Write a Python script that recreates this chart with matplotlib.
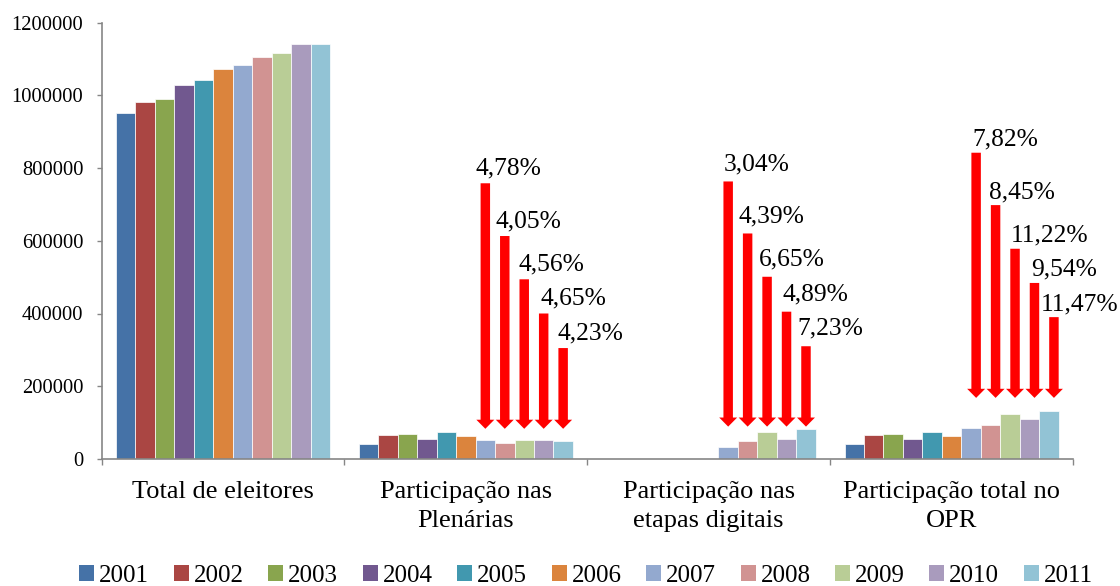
import numpy as np
import matplotlib
matplotlib.use("Agg")
import matplotlib.pyplot as plt
from matplotlib.patches import FancyArrow, Patch

plt.rcParams['font.family'] = ['Liberation Serif', 'DejaVu Serif']

# ---------------- data ----------------
years = [2001, 2002, 2003, 2004, 2005, 2006, 2007, 2008, 2009, 2010, 2011]
categories = ["Total de eleitores", "Participação nas\nPlenárias",
              "Participação nas\netapas digitais", "Participação total no\nOPR"]
eleitores = [951000, 982000, 991000, 1029000, 1043000, 1073000,
             1083000, 1106000, 1117000, 1142000, 1140000]
plenarias = [41000, 66000, 69000, 54000, 75000, 63000,
             51800, 44800, 50900, 53100, 48200]
digitais = [0, 0, 0, 0, 0, 0, 32900, 48600, 74300, 55800, 82400]
total_opr = [41000, 66000, 69000, 54000, 75000, 63000,
             84700, 93500, 125000, 109000, 130800]
series_by_category = [eleitores, plenarias, digitais, total_opr]

pct_plenarias = ["4,78%", "4,05%", "4,56%", "4,65%", "4,23%"]
pct_digitais = ["3,04%", "4,39%", "6,65%", "4,89%", "7,23%"]
pct_total = ["7,82%", "8,45%", "11,22%", "9,54%", "11,47%"]
yticks = [0, 200000, 400000, 600000, 800000, 1000000, 1200000]

# annotation arrows (start heights / end heights, in axis units)
arrow_tops = [
    [758000, 613000, 494000, 400000, 305000],
    [763000, 620000, 501000, 405000, 310000],
    [842000, 698000, 578000, 484000, 390000],
]
arrow_tips = [83000, 89000, 168000]
arrow_groups = [1, 2, 3]
arrow_xshift = [0.0, 0.0, 0.021]
arrow_labels = [pct_plenarias, pct_digitais, pct_total]
label_dx = [[-10, -9, -6, -3, -6], [-4, -9, -8, -4, -9], [-4, -7, -4, -3, -13]]
label_dy = [9, 11.5, 7]

colors = ["#4572A7", "#AA4643", "#89A54E", "#71588F", "#4198AF", "#DB843D",
          "#93A9CF", "#D19392", "#B9CD96", "#A99BBD", "#92C3D5"]

# ---------------- figure ----------------
W, H = 1120, 586
fig = plt.figure(figsize=(W / 100, H / 100), dpi=100)
ax = fig.add_axes([101.6 / W, 1 - 459 / H, (1073 - 101.6) / W, (459 - 22.5) / H])

n = len(years)
bw = 0.0801
xc = np.arange(len(categories))
for i, yr in enumerate(years):
    vals = [s[i] for s in series_by_category]
    offs = (i - (n - 1) / 2) * bw
    ax.bar(xc + offs, vals, width=bw, color=colors[i],
           edgecolor='white', linewidth=0.5, label=str(yr))

# arrows
for gi, (g, tops, tip, xs, labs) in enumerate(zip(arrow_groups, arrow_tops, arrow_tips,
                                                 arrow_xshift, arrow_labels)):
    for k, (top, lab) in enumerate(zip(tops, labs)):
        i = 6 + k
        x = g + (i - (n - 1) / 2) * bw + xs
        ax.add_patch(FancyArrow(x, top, 0, -(top - tip), width=0.039,
                                head_width=0.074, head_length=25000,
                                length_includes_head=True, color='#FF0000',
                                linewidth=0, zorder=3))
        ax.annotate(lab, xy=(x, top), xytext=(label_dx[gi][k], label_dy[gi]),
                    textcoords='offset pixels',
                    ha='left', va='baseline', fontsize=18.4, color='black',
                    annotation_clip=False)

ax.set_xlim(-0.5, 3.5)
ax.set_ylim(0, 1200000)

for s in ['top', 'right']:
    ax.spines[s].set_visible(False)
for s in ['left', 'bottom']:
    ax.spines[s].set_color('#868686')
    ax.spines[s].set_linewidth(1.2)

ax.set_yticks(yticks)
ax.set_yticklabels([str(v) for v in yticks], fontsize=14.8)
ax.tick_params(axis='y', direction='out', length=3.6, width=1.0,
               color='#868686', pad=9.6)

ax.set_xticks(xc)
ax.set_xticklabels(categories, fontsize=19, linespacing=1.4)
ax.tick_params(axis='x', which='major', length=0, pad=16)
ax.set_xticks(np.arange(-0.5, 4.0, 1.0), minor=True)
ax.tick_params(axis='x', which='minor', direction='out', length=4, width=1.0,
               color='#868686')

handles = [Patch(facecolor=c, edgecolor='none') for c in colors]
fig.legend(handles, [str(y) for y in years], loc='center',
           bbox_to_anchor=(586 / W, 10.5 / H), ncol=11, frameon=False,
           fontsize=18, handlelength=0.6, handleheight=0.6,
           handletextpad=0.2, columnspacing=0.98, borderpad=0.1)

fig.savefig("out.png", dpi=100)
